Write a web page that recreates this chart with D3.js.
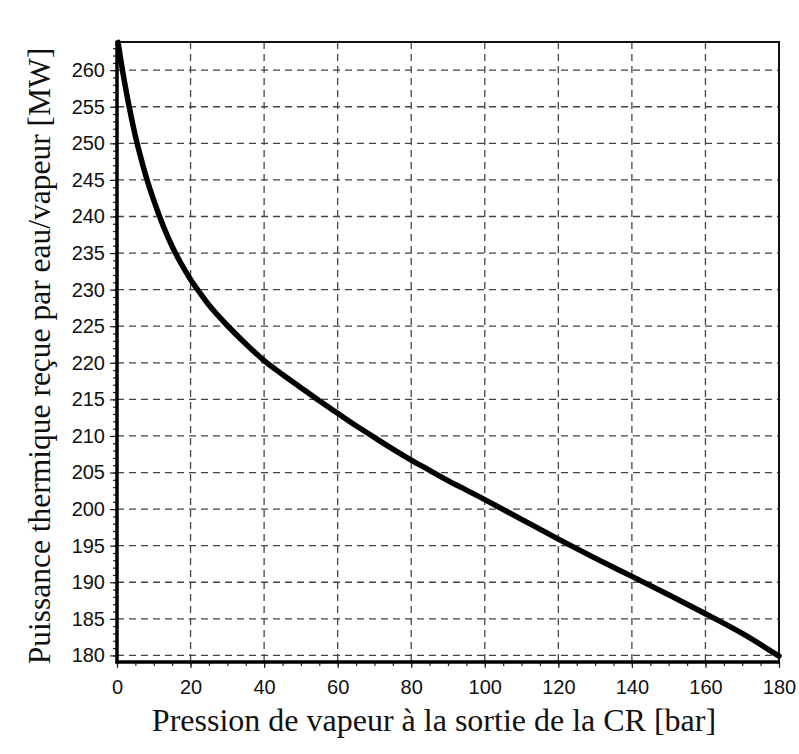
<!DOCTYPE html>
<html>
<head>
<meta charset="utf-8">
<script src="https://cdn.jsdelivr.net/npm/d3@7"></script>
<style>
  html, body { margin: 0; padding: 0; background: #ffffff; }
  svg { display: block; }
</style>
</head>
<body>
<svg id="chart" width="799" height="754"></svg>
<script>
// ---- data ----
const pressure = [0.3, 1, 2, 3, 4, 5, 6.5, 8, 10, 12.5, 15, 17.5, 20, 22.5, 25, 30, 35, 40, 45, 50, 55, 60, 65, 70, 75, 80, 85, 90, 95, 100, 110, 120, 130, 140, 150, 160, 170, 180];
const power    = [263.8, 261.5, 258.5, 255.8, 253.3, 251.0, 248.0, 245.3, 242.2, 238.8, 235.9, 233.5, 231.4, 229.6, 227.9, 225.1, 222.6, 220.3, 218.4, 216.6, 214.8, 213.1, 211.4, 209.8, 208.2, 206.7, 205.3, 203.9, 202.6, 201.3, 198.6, 195.9, 193.3, 190.8, 188.3, 185.7, 183.0, 179.9];
const xTicks = [0, 20, 40, 60, 80, 100, 120, 140, 160, 180];
const yTicks = [180, 185, 190, 195, 200, 205, 210, 215, 220, 225, 230, 235, 240, 245, 250, 255, 260];
const xTitle = "Pression de vapeur à la sortie de la CR [bar]";
const yTitle = "Puissance thermique reçue par eau/vapeur [MW]";

// ---- layout ----
const svg = d3.select("#chart");
const L = 117, R = 779, T = 42, B = 662;
const x = d3.scaleLinear().domain([0, 180]).range([L, R]);
const y = d3.scaleLinear().domain([179.1, 263.85]).range([B, T]);

// grid
const grid = svg.append("g").attr("stroke", "#444").attr("stroke-width", 1.3).attr("stroke-dasharray", "7,5");
grid.selectAll("line.h").data(yTicks).join("line")
  .attr("x1", L).attr("x2", R).attr("y1", d => y(d)).attr("y2", d => y(d));
grid.selectAll("line.v").data(xTicks.filter(d => d > 0 && d < 180)).join("line")
  .attr("x1", d => x(d)).attr("x2", d => x(d)).attr("y1", T).attr("y2", B);

// frame top/right
svg.append("line").attr("x1", L).attr("x2", R + 1).attr("y1", T).attr("y2", T).attr("stroke", "#111").attr("stroke-width", 2);
svg.append("line").attr("x1", R).attr("x2", R).attr("y1", T).attr("y2", B).attr("stroke", "#111").attr("stroke-width", 2);

// axes
const xAxis = d3.axisBottom(x).tickValues(xTicks).tickSize(6).tickPadding(12).tickFormat(d3.format("d"));
const xMinor = d3.axisBottom(x).tickValues(d3.range(0, 181, 5)).tickSize(4).tickFormat("");
const yAxis = d3.axisLeft(y).tickValues(yTicks).tickSize(7).tickPadding(5).tickFormat(d3.format("d"));
const yMinor = d3.axisLeft(y).tickValues(d3.range(180, 264, 1)).tickSize(4).tickFormat("");

function styleAxis(g) {
  g.select(".domain").remove();
  g.selectAll(".tick line").attr("stroke", "#222").attr("stroke-width", 1.2);
  g.selectAll(".tick text").attr("fill", "#111").style("font-family", "'Liberation Sans', Arial, sans-serif").style("font-size", "20px");
}
svg.append("g").attr("transform", `translate(0,${B})`).call(xMinor).call(styleAxis);
svg.append("g").attr("transform", `translate(0,${B})`).call(xAxis).call(styleAxis);
svg.append("g").attr("transform", `translate(${L},0)`).call(yMinor).call(styleAxis);
svg.append("g").attr("transform", `translate(${L},0)`).call(yAxis).call(styleAxis);

// thick left & bottom axis lines
svg.append("line").attr("x1", L).attr("x2", L).attr("y1", T - 1).attr("y2", B + 1.5).attr("stroke", "#000").attr("stroke-width", 3.5);
svg.append("line").attr("x1", L - 1.5).attr("x2", R + 1).attr("y1", B).attr("y2", B).attr("stroke", "#000").attr("stroke-width", 3.5);

// curve
const pts = pressure.map((p, i) => [p, power[i]]);
const line = d3.line().x(d => x(d[0])).y(d => y(d[1])).curve(d3.curveCatmullRom.alpha(0.5));
svg.append("path").datum(pts).attr("d", line)
  .attr("fill", "none").attr("stroke", "#000").attr("stroke-width", 5.5)
  .attr("stroke-linejoin", "round").attr("stroke-linecap", "round");

// titles
svg.append("text").text(xTitle)
  .attr("x", 434).attr("y", 731).attr("text-anchor", "middle")
  .style("font-family", "'Liberation Serif', 'Times New Roman', serif").style("font-size", "32px").attr("fill", "#111");
svg.append("text").text(yTitle)
  .attr("transform", "translate(50,356) rotate(-90)").attr("text-anchor", "middle")
  .style("font-family", "'Liberation Serif', 'Times New Roman', serif").style("font-size", "31.5px").attr("fill", "#111");
</script>
</body>
</html>
